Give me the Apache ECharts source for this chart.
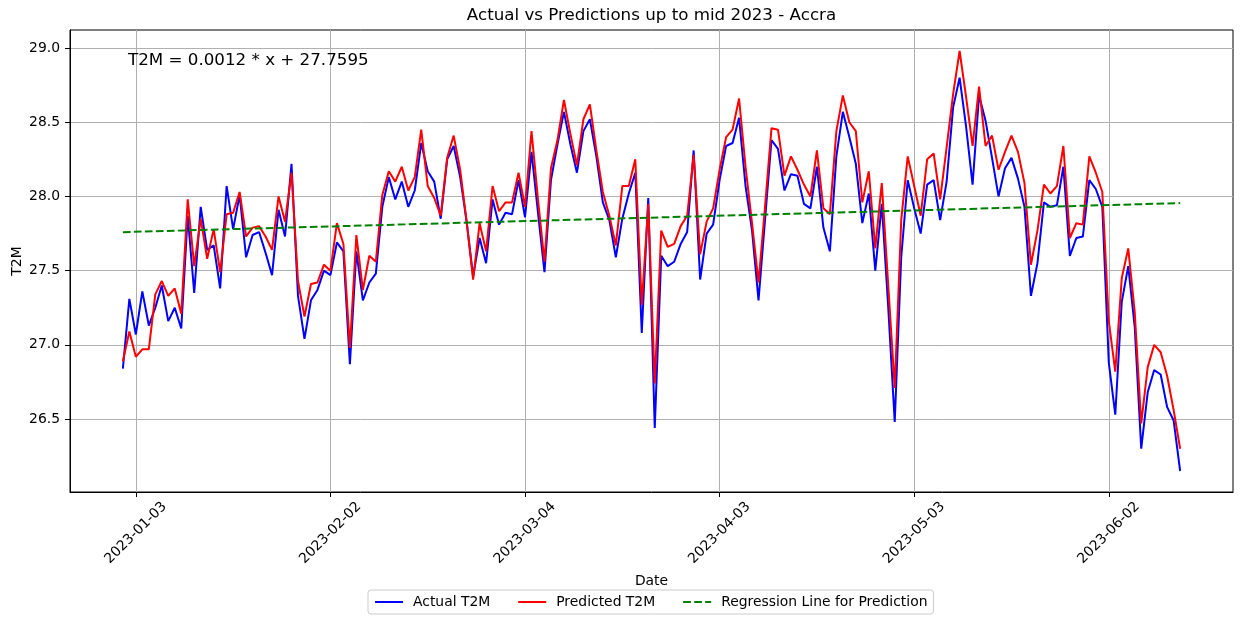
<!DOCTYPE html>
<html>
<head>
<meta charset="utf-8">
<title>Actual vs Predictions - Accra</title>
<script src="https://cdn.jsdelivr.net/npm/echarts@6/dist/echarts.min.js"></script>
<style>
  html, body { margin: 0; padding: 0; background: #fff; }
  #chart { width: 1242px; height: 626px; }
</style>
</head>
<body>
<div id="chart"></div>
<script>
// day index 0 = 2023-01-01
const tickDays = [2, 32, 62, 92, 122, 152];
const tickLabels = ['2023-01-03', '2023-02-02', '2023-03-04', '2023-04-03', '2023-05-03', '2023-06-02'];
const yTicks = [26.5, 27.0, 27.5, 28.0, 28.5, 29.0];

const actualT2M = [
  26.84, 27.31, 27.07, 27.36, 27.13, 27.25, 27.40, 27.16, 27.25, 27.11,
  27.87, 27.35, 27.93, 27.64, 27.67, 27.38, 28.07, 27.78, 28.01, 27.59,
  27.74, 27.76, 27.62, 27.47, 27.91, 27.73, 28.22, 27.33, 27.04, 27.30,
  27.37, 27.50, 27.47, 27.69, 27.63, 26.87, 27.63, 27.30, 27.42, 27.48,
  27.93, 28.13, 27.98, 28.10, 27.93, 28.04, 28.36, 28.17, 28.10, 27.85,
  28.25, 28.34, 28.13, 27.83, 27.46, 27.72, 27.55, 27.98, 27.81, 27.89,
  27.88, 28.11, 27.86, 28.30, 27.89, 27.49, 28.11, 28.35, 28.57, 28.35,
  28.16, 28.44, 28.52, 28.27, 27.96, 27.84, 27.59, 27.85, 28.02, 28.16,
  27.08, 27.99, 26.44, 27.60, 27.53, 27.56, 27.68, 27.76, 28.31, 27.44,
  27.75, 27.81, 28.11, 28.34, 28.36, 28.53, 28.07, 27.77, 27.30, 27.84,
  28.38, 28.32, 28.04, 28.15, 28.14, 27.95, 27.92, 28.20, 27.79, 27.63,
  28.27, 28.57, 28.40, 28.22, 27.82, 28.02, 27.50, 27.95, 27.25, 26.48,
  27.59, 28.11, 27.92, 27.75, 28.08, 28.11, 27.84, 28.10, 28.60, 28.80,
  28.47, 28.08, 28.68, 28.51, 28.26, 28.00, 28.19, 28.26, 28.12, 27.93,
  27.33, 27.55, 27.96, 27.93, 27.94, 28.20, 27.60, 27.72, 27.73, 28.11,
  28.05, 27.93, 26.88, 26.53, 27.29, 27.53, 27.12, 26.30, 26.68, 26.83,
  26.80, 26.58, 26.49, 26.15
];

const predictedT2M = [
  26.89, 27.09, 26.92, 26.97, 26.97, 27.34, 27.43, 27.33, 27.38, 27.21,
  27.98, 27.53, 27.85, 27.58, 27.78, 27.49, 27.88, 27.89, 28.03, 27.73,
  27.79, 27.80, 27.73, 27.64, 28.00, 27.83, 28.16, 27.43, 27.19, 27.41,
  27.42, 27.54, 27.50, 27.82, 27.68, 26.98, 27.74, 27.37, 27.60, 27.56,
  28.01, 28.17, 28.10, 28.20, 28.04, 28.13, 28.45, 28.07, 27.99, 27.87,
  28.26, 28.41, 28.18, 27.83, 27.44, 27.82, 27.63, 28.07, 27.90, 27.96,
  27.96, 28.16, 27.93, 28.44, 27.98, 27.56, 28.19, 28.38, 28.65, 28.42,
  28.21, 28.52, 28.62, 28.31, 28.03, 27.87, 27.67, 28.07, 28.07, 28.25,
  27.27, 27.95, 26.74, 27.77, 27.66, 27.68, 27.80, 27.87, 28.28, 27.61,
  27.83, 27.92, 28.18, 28.40, 28.45, 28.66, 28.20, 27.82, 27.42, 27.93,
  28.46, 28.45, 28.14, 28.27, 28.18, 28.08, 28.00, 28.31, 27.92, 27.88,
  28.44, 28.68, 28.50, 28.44, 27.96, 28.17, 27.65, 28.09, 27.40, 26.71,
  27.84, 28.27, 28.07, 27.87, 28.25, 28.29, 27.98, 28.33, 28.69, 28.98,
  28.67, 28.34, 28.74, 28.34, 28.41, 28.18, 28.30, 28.41, 28.30, 28.09,
  27.54, 27.77, 28.08, 28.02, 28.07, 28.34, 27.72, 27.82, 27.81, 28.27,
  28.16, 28.03, 27.16, 26.82, 27.45, 27.65, 27.22, 26.47, 26.85, 27.00,
  26.95, 26.79, 26.56, 26.30
];

// regression line end points (T2M = 0.0012 * x + 27.7595)
const regDays = [0, 163];
const regT2M = [27.7595, 27.9551];

const FONT = '"DejaVu Sans", sans-serif';

const toPairs = (xs, ys) => ys.map((v, i) => [xs ? xs[i] : i, v]);

// matplotlib-style 5% margins
const nDays = actualT2M.length - 1;
const xPad = nDays * 0.05;
const allVals = actualT2M.concat(predictedT2M, regT2M);
const lo = Math.min(...allVals), hi = Math.max(...allVals);
const yPad = (hi - lo) * 0.05;

const gridLeft = 70, gridRight = 9, gridTop = 30, gridBottom = 134;
const plotCenterX = gridLeft + (1242 - gridLeft - gridRight) / 2;

let myChart = echarts.init(document.getElementById('chart'));

let option = {
  animation: false,
  backgroundColor: '#fff',
  textStyle: { fontFamily: FONT },
  grid: {
    left: gridLeft, right: gridRight, top: gridTop, bottom: gridBottom,
    show: true, borderColor: '#000', borderWidth: 1,
    outerBoundsMode: 'none'
  },
  graphic: [
    {
      type: 'text', x: plotCenterX, y: 16,
      style: { text: 'Actual vs Predictions up to mid 2023 - Accra', font: '16.7px ' + FONT,
               fill: '#000', align: 'center', verticalAlign: 'middle' }
    },
    {
      type: 'text', x: 128, y: 52, z: 10,
      style: { text: 'T2M = 0.0012 * x + 27.7595', font: '16.7px ' + FONT,
               fill: '#000', align: 'left', verticalAlign: 'top' }
    }
  ],
  legend: {
    data: ['Actual T2M', 'Predicted T2M', 'Regression Line for Prediction'],
    left: 368, top: 590,
    itemWidth: 28, itemHeight: 14, itemGap: 27,
    padding: [5, 6, 5, 6],
    borderColor: '#cccccc', borderWidth: 1, borderRadius: 3,
    backgroundColor: 'rgba(255,255,255,0.8)',
    itemStyle: { opacity: 0 },
    textStyle: { color: '#000', fontSize: 13.9, fontFamily: FONT, padding: [0, 0, 0, 5] }
  },
  xAxis: {
    type: 'value',
    min: -xPad, max: nDays + xPad,
    name: 'Date', nameLocation: 'middle', nameGap: 82,
    nameTextStyle: { color: '#000', fontSize: 13.9, fontFamily: FONT },
    axisLine: { show: true, onZero: false, lineStyle: { color: '#000', width: 1 } },
    axisTick: { show: true, customValues: tickDays, length: 5, lineStyle: { color: '#000' } },
    axisLabel: {
      customValues: tickDays, rotate: 45, align: 'center', verticalAlign: 'middle', margin: 41,
      color: '#000', fontSize: 13.9, fontFamily: FONT,
      formatter: v => tickLabels[tickDays.indexOf(v)] || ''
    },
    splitLine: { show: true, lineStyle: { color: '#b0b0b0', width: 1 } }
  },
  yAxis: {
    type: 'value',
    min: lo - yPad, max: hi + yPad,
    name: 'T2M', nameLocation: 'middle', nameGap: 46, nameMoveOverlap: false,
    nameTextStyle: { color: '#000', fontSize: 13.9, fontFamily: FONT },
    axisLine: { show: true, onZero: false, lineStyle: { color: '#000', width: 1 } },
    axisTick: { show: true, customValues: yTicks, length: 5, lineStyle: { color: '#000' } },
    axisLabel: {
      customValues: yTicks, margin: 10,
      color: '#000', fontSize: 13.9, fontFamily: FONT,
      formatter: v => v.toFixed(1)
    },
    splitLine: { show: true, lineStyle: { color: '#b0b0b0', width: 1 } }
  },
  series: [
    {
      name: 'Actual T2M', type: 'line', symbol: 'none',
      data: toPairs(null, actualT2M),
      lineStyle: { color: '#0000ff', width: 2 }, itemStyle: { color: '#0000ff' }
    },
    {
      name: 'Predicted T2M', type: 'line', symbol: 'none',
      data: toPairs(null, predictedT2M),
      lineStyle: { color: '#ff0000', width: 2 }, itemStyle: { color: '#ff0000' }
    },
    {
      name: 'Regression Line for Prediction', type: 'line', symbol: 'none',
      data: toPairs(regDays, regT2M),
      lineStyle: { color: '#008000', width: 2, type: [7.7, 3.3] }, itemStyle: { color: '#008000' }
    }
  ]
};
option && myChart.setOption(option);
</script>
</body>
</html>
